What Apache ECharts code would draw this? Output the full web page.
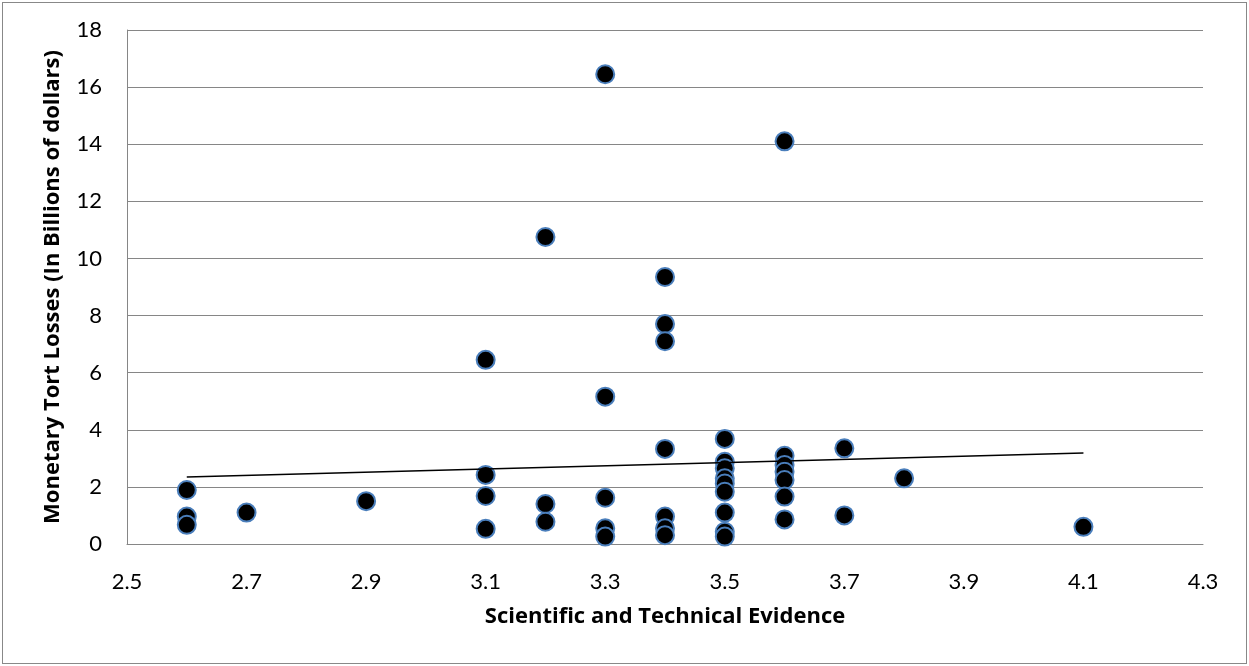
<!DOCTYPE html>
<html>
<head>
<meta charset="utf-8">
<script src="https://cdn.jsdelivr.net/npm/echarts@6/dist/echarts.min.js"></script>
<style>
  html, body { margin: 0; padding: 0; background: #fff; }
  #wrap { position: relative; width: 1249px; height: 666px; }
  #chart { position: absolute; left: 0; top: 0; width: 1249px; height: 666px; }
  #frame { position: absolute; left: 2px; top: 2px; right: 2px; bottom: 2px; border: 1px solid #888; pointer-events: none; }
</style>
</head>
<body>
<div id="wrap">
  <div id="chart"></div>
  <div id="frame"></div>
</div>
<script>
// Scientific and technical evidence scores with monetary tort losses (billions of dollars)
const evidenceScores = [
  2.6, 2.6, 2.6,
  2.7,
  2.9,
  3.1, 3.1, 3.1, 3.1,
  3.2, 3.2, 3.2,
  3.3, 3.3, 3.3, 3.3, 3.3,
  3.4, 3.4, 3.4, 3.4, 3.4, 3.4, 3.4,
  3.5, 3.5, 3.5, 3.5, 3.5, 3.5, 3.5, 3.5, 3.5,
  3.6, 3.6, 3.6, 3.6, 3.6, 3.6, 3.6,
  3.7, 3.7,
  3.8,
  4.1
];
const tortLosses = [
  1.89, 0.96, 0.67,
  1.10,
  1.50,
  6.45, 2.42, 1.68, 0.53,
  10.75, 1.40, 0.78,
  16.45, 5.16, 1.62, 0.55, 0.26,
  9.35, 7.70, 7.10, 3.33, 0.96, 0.55, 0.31,
  3.68, 2.88, 2.65, 2.30, 2.12, 1.83, 1.10, 0.43, 0.26,
  14.10, 3.09, 2.77, 2.53, 2.24, 1.66, 0.86,
  3.35, 1.00,
  2.30,
  0.60
];
// Linear trendline end points
const trendX = [2.6, 4.1];
const trendY = [2.35, 3.19];
const xTicks = [2.5, 2.7, 2.9, 3.1, 3.3, 3.5, 3.7, 3.9, 4.1, 4.3];
const yTicks = [0, 2, 4, 6, 8, 10, 12, 14, 16, 18];

const points = evidenceScores.map((x, i) => [x, tortLosses[i]]);
const trendPoints = trendX.map((x, i) => [x, trendY[i]]);
const labelFont = "Lato, 'Open Sans', sans-serif";
const titleFont = "'Open Sans', Lato, sans-serif";

const chart = echarts.init(document.getElementById('chart'));
chart.setOption({
  animation: false,
  grid: { left: 127, right: 46, top: 30, bottom: 122, containLabel: false },
  xAxis: {
    type: 'value',
    min: 2.5, max: 4.3, interval: 0.2,
    name: 'Scientific and Technical Evidence',
    nameLocation: 'middle', nameGap: 62,
    nameTextStyle: { fontFamily: titleFont, fontSize: 22, fontWeight: 'bold', color: '#000' },
    axisLine: { show: true, lineStyle: { color: '#868686', width: 1 } },
    axisTick: { show: false },
    axisLabel: {
      fontFamily: labelFont, fontSize: 22, color: '#000', margin: 27,
      formatter: v => {
        const t = xTicks.find(k => Math.abs(k - v) < 1e-6);
        return t === undefined ? '' : t.toFixed(1);
      }
    },
    splitLine: { show: false }
  },
  yAxis: {
    type: 'value',
    min: 0, max: 18, interval: 2,
    name: 'Monetary Tort Losses (In Billions of dollars)',
    nameLocation: 'middle', nameGap: 63,
    nameTextStyle: { fontFamily: titleFont, fontSize: 22, fontWeight: 'bold', color: '#000' },
    axisLine: { show: true, lineStyle: { color: '#868686', width: 1 } },
    axisTick: { show: false },
    axisLabel: {
      fontFamily: labelFont, fontSize: 22, color: '#000', margin: 25,
      formatter: v => (yTicks.includes(v) ? String(v) : '')
    },
    splitLine: { show: true, lineStyle: { color: '#868686', width: 1 } }
  },
  series: [
    {
      type: 'scatter',
      data: points,
      symbol: 'circle',
      symbolSize: 18,
      itemStyle: { color: '#000', borderColor: '#4a7ebb', borderWidth: 2, opacity: 1 },
      z: 3
    },
    {
      type: 'line',
      data: trendPoints,
      symbol: 'none',
      lineStyle: { color: '#000', width: 1.5 },
      z: 4
    }
  ]
});
</script>
</body>
</html>
